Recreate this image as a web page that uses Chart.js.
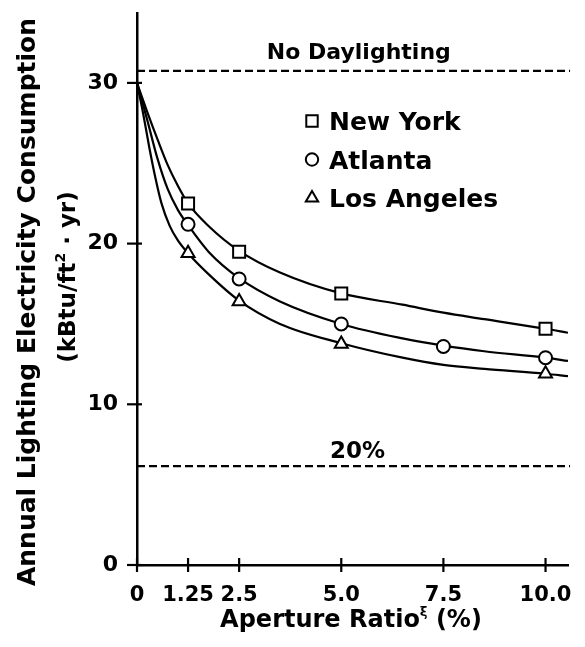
<!DOCTYPE html>
<html><head><meta charset="utf-8">
<script src="https://cdn.jsdelivr.net/npm/chart.js@4.4.1/dist/chart.umd.min.js"></script>
<style>html,body{margin:0;padding:0;background:#fff}canvas{display:block}</style>
</head><body>
<canvas id="c" width="585" height="647"></canvas>
<script>
// ---- data ----
const cities = ['New York', 'Atlanta', 'Los Angeles'];
const pointStyles = ['rect', 'circle', 'triangle'];
const pointRadii = [8.5, 6.5, 7.5];

const nyX = [1.25, 2.5, 5.0, 10.0];
const nyY = [22.5, 19.5, 16.9, 14.7];
const atlX = [1.25, 2.5, 5.0, 7.5, 10.0];
const atlY = [21.2, 17.8, 15.0, 13.6, 12.9];
const laX = [1.25, 2.5, 5.0, 10.0];
const laY = [19.4, 16.4, 13.75, 11.9];

// fitted curves
const nyCurveX = [0, 0.25, 0.5, 0.75, 1.0, 1.25, 1.75, 2.5, 3.5, 5, 6.5, 7.5, 8.5, 10, 10.55];
const nyCurveY = [30, 28.2, 26.5, 24.9, 23.6, 22.5, 21.1, 19.55, 18.2, 16.9, 16.2, 15.7, 15.3, 14.7, 14.45];
const atlCurveX = [0, 0.25, 0.5, 0.75, 1.0, 1.25, 1.75, 2.5, 3.5, 5, 6.5, 7.5, 8.5, 10, 10.55];
const atlCurveY = [30, 27.7, 25.3, 23.4, 22.1, 21.15, 19.5, 17.85, 16.4, 15.0, 14.1, 13.65, 13.3, 12.9, 12.7];
const laCurveX = [0, 0.15, 0.3, 0.45, 0.6, 0.8, 1.0, 1.25, 1.75, 2.5, 3.5, 5, 6.5, 7.5, 8.5, 10, 10.55];
const laCurveY = [30, 28.1, 26.0, 24.1, 22.5, 21.1, 20.2, 19.4, 18.1, 16.45, 15.0, 13.8, 12.9, 12.45, 12.2, 11.9, 11.75];

const refX = [0, 10.6];
const noDaylight = 30.75;
const twentyPct = 6.15;

const xTicks = [0, 1.25, 2.5, 5, 7.5, 10];
const xTickLabels = ['0', '1.25', '2.5', '5.0', '7.5', '10.0'];
const yTicks = [0, 10, 20, 30];
const yTickLabels = ['0', '10', '20', '30'];

// ---- chart ----
const FAM = "'DejaVu Sans', 'Liberation Sans', sans-serif";
const pts = (xs, ys) => xs.map((x, i) => ({x: x, y: ys[i]}));

const markerSets = [[nyX, nyY], [atlX, atlY], [laX, laY]].map((d, i) => ({
  label: cities[i],
  data: pts(d[0], d[1]),
  showLine: false,
  pointStyle: pointStyles[i],
  pointRadius: pointRadii[i],
  pointBorderWidth: 2,
  pointBorderColor: '#000',
  pointBackgroundColor: '#fff',
  order: 0
}));
const curveSets = [[nyCurveX, nyCurveY], [atlCurveX, atlCurveY], [laCurveX, laCurveY]].map((d, i) => ({
  label: cities[i] + ' fit',
  data: pts(d[0], d[1]),
  showLine: true,
  borderColor: '#000',
  borderWidth: 2.2,
  pointRadius: 0,
  cubicInterpolationMode: 'monotone',
  order: 1
}));
const refSets = [noDaylight, twentyPct].map(v => ({
  label: 'ref',
  data: refX.map(x => ({x: x, y: v})),
  showLine: true,
  borderColor: '#000',
  borderWidth: 2.2,
  borderDash: [8, 4],
  pointRadius: 0,
  clip: false,
  order: 2
}));

function drawMarker(ctx, style, r, x, y) {
  ctx.save();
  ctx.fillStyle = '#fff'; ctx.strokeStyle = '#000'; ctx.lineWidth = 2;
  if (Chart.helpers && Chart.helpers.drawPoint) {
    Chart.helpers.drawPoint(ctx, {pointStyle: style, radius: r, rotation: 0, borderWidth: 2}, x, y);
  }
  ctx.restore();
}

function drawParts(ctx, parts, cx, baseY) {
  let total = 0;
  parts.forEach(p => { ctx.font = 'bold ' + p[1] + 'px ' + FAM; p.w = ctx.measureText(p[0]).width; total += p.w; });
  let xx = cx - total / 2;
  ctx.textAlign = 'left'; ctx.textBaseline = 'alphabetic';
  parts.forEach(p => { ctx.font = 'bold ' + p[1] + 'px ' + FAM; ctx.fillText(p[0], xx, baseY - p[2]); xx += p.w; });
}

const decor = {
  id: 'decor',
  afterDraw(chart) {
    const ctx = chart.ctx, a = chart.chartArea, xs = chart.scales.x, ys = chart.scales.y;
    ctx.save();
    ctx.strokeStyle = '#000'; ctx.lineWidth = 2.2;
    yTicks.forEach(v => { const p = ys.getPixelForValue(v); ctx.beginPath(); ctx.moveTo(a.left - 10, p); ctx.lineTo(a.left + 5, p); ctx.stroke(); });
    xTicks.forEach(v => { const p = xs.getPixelForValue(v); ctx.beginPath(); ctx.moveTo(p, a.bottom - 7); ctx.lineTo(p, a.bottom + 7); ctx.stroke(); });

    ctx.fillStyle = '#000';
    ctx.textAlign = 'center'; ctx.textBaseline = 'alphabetic';
    ctx.font = 'bold 22px ' + FAM;
    ctx.fillText('No Daylighting', xs.getPixelForValue(5.43), ys.getPixelForValue(noDaylight) - 12);
    ctx.font = 'bold 23px ' + FAM;
    ctx.fillText('20%', xs.getPixelForValue(5.4), ys.getPixelForValue(twentyPct) - 8);

    // legend
    const lx = a.left + 175, ly0 = a.top + 108, dy = 38.5;
    cities.forEach((c, i) => {
      const yy = ly0 + i * dy;
      drawMarker(ctx, pointStyles[i], pointRadii[i] * 0.95, lx, yy);
      ctx.fillStyle = '#000';
      ctx.font = 'bold 25px ' + FAM; ctx.textAlign = 'left'; ctx.textBaseline = 'alphabetic';
      ctx.fillText(c, lx + 17, yy + 9);
    });

    // x title
    ctx.fillStyle = '#000';
    drawParts(ctx, [['Aperture Ratio', 24, 0], ['\u03BE', 13, 11], [' (%)', 24, 0]], 351, 627);

    // y title
    ctx.save();
    ctx.translate(35, 302); ctx.rotate(-Math.PI / 2);
    ctx.font = 'bold 25px ' + FAM; ctx.textAlign = 'center'; ctx.textBaseline = 'alphabetic';
    ctx.fillText('Annual Lighting Electricity Consumption', 0, 0);
    ctx.restore();
    ctx.save();
    ctx.translate(75, 277); ctx.rotate(-Math.PI / 2);
    drawParts(ctx, [['(kBtu/ft', 23, 0], ['2', 14, 10], [' \u00B7 yr)', 23, 0]], 0, 0);
    ctx.restore();
    ctx.restore();
  }
};

new Chart(document.getElementById('c'), {
  type: 'scatter',
  data: {datasets: markerSets.concat(curveSets, refSets)},
  options: {
    responsive: false,
    animation: false,
    layout: {padding: {top: 13, right: 17, left: 0, bottom: 0}},
    plugins: {legend: {display: false}, tooltip: {enabled: false}},
    scales: {
      x: {
        type: 'linear', min: 0, max: 10.55,
        afterBuildTicks: s => { s.ticks = xTicks.map(v => ({value: v})); },
        afterFit: s => { s.height = 82; s.paddingLeft = 0; s.paddingRight = 0; },
        grid: {drawOnChartArea: false, drawTicks: false},
        border: {display: true, color: '#000', width: 2.5},
        ticks: {color: '#000', font: {family: FAM, size: 21, weight: 'bold'}, padding: 18, autoSkip: false, maxRotation: 0,
                callback: v => xTickLabels[xTicks.indexOf(v)]}
      },
      y: {
        type: 'linear', min: 0, max: 34.35,
        afterBuildTicks: s => { s.ticks = yTicks.map(v => ({value: v})); },
        afterFit: s => { s.width = 137; s.paddingTop = 0; s.paddingBottom = 0; },
        grid: {drawOnChartArea: false, drawTicks: false},
        border: {display: true, color: '#000', width: 2.5},
        ticks: {color: '#000', font: {family: FAM, size: 22, weight: 'bold'}, padding: 19,
                callback: v => yTickLabels[yTicks.indexOf(v)]}
      }
    }
  },
  plugins: [decor]
});
</script>
</body></html>
